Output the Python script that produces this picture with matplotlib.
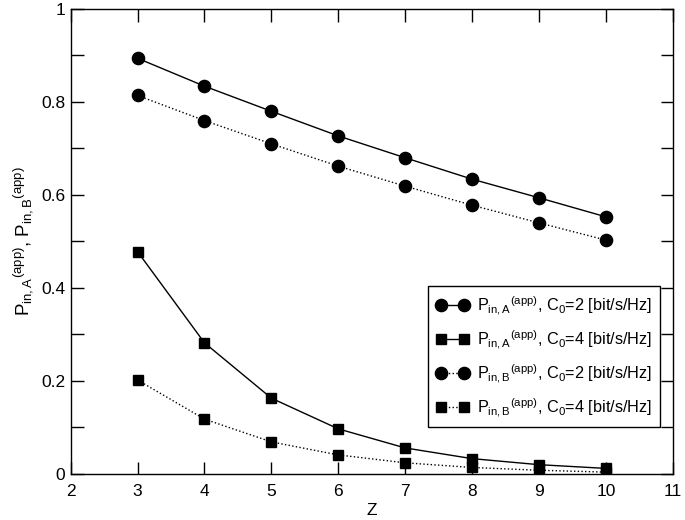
import numpy as np
import matplotlib
matplotlib.use('Agg')
import matplotlib.pyplot as plt
from matplotlib.ticker import MultipleLocator

plt.rcParams['font.family'] = ['Liberation Sans', 'DejaVu Sans']
plt.rcParams['mathtext.fontset'] = 'custom'
plt.rcParams['mathtext.rm'] = 'Liberation Sans'
plt.rcParams['mathtext.it'] = 'Liberation Sans'
plt.rcParams['mathtext.default'] = 'regular'

z = [3, 4, 5, 6, 7, 8, 9, 10]
pa_c2 = [0.894, 0.834, 0.780, 0.727, 0.680, 0.634, 0.594, 0.553]
pa_c4 = [0.478, 0.282, 0.163, 0.097, 0.056, 0.033, 0.020, 0.012]
pb_c2 = [0.814, 0.760, 0.710, 0.662, 0.619, 0.578, 0.540, 0.503]
pb_c4 = [0.202, 0.118, 0.069, 0.041, 0.024, 0.014, 0.008, 0.004]

labels = [r'$P_{in,A}{}^{(app)}$, $C_0$=2 [bit/s/Hz]',
          r'$P_{in,A}{}^{(app)}$, $C_0$=4 [bit/s/Hz]',
          r'$P_{in,B}{}^{(app)}$, $C_0$=2 [bit/s/Hz]',
          r'$P_{in,B}{}^{(app)}$, $C_0$=4 [bit/s/Hz]']

fig = plt.figure(figsize=(6.85, 5.2), dpi=100)
ax = fig.add_axes([0.1032, 0.0885, 0.879, 0.8942])

ax.plot(z, pa_c2, 'k-', marker='o', ms=8.8, lw=1, label=labels[0])
ax.plot(z, pa_c4, 'k-', marker='s', ms=7.6, lw=1, label=labels[1])
ax.plot(z, pb_c2, 'k:', marker='o', ms=8.8, lw=1, label=labels[2])
ax.plot(z, pb_c4, 'k:', marker='s', ms=7.6, lw=1, label=labels[3])

ax.set_xlim(2, 11)
ax.set_ylim(0, 1)
ax.xaxis.set_major_locator(MultipleLocator(1))
ax.yaxis.set_minor_locator(MultipleLocator(0.1))
ax.set_yticks([0, 0.2, 0.4, 0.6, 0.8, 1])
ax.set_yticklabels(['0', '0.2', '0.4', '0.6', '0.8', '1'])
ax.tick_params(which='both', direction='in', top=True, right=True,
               length=9, width=1, labelsize=12.5)
ax.tick_params(axis='x', pad=7)
ax.tick_params(axis='y', pad=4)
for s in ax.spines.values():
    s.set_linewidth(1)

ax.set_xlabel('Z', fontsize=12.5, labelpad=3)
ax.set_ylabel(r'$P_{in,A}{}^{(app)}$, $P_{in,B}{}^{(app)}$', fontsize=13.5, labelpad=4)

leg = ax.legend(loc='lower right', bbox_to_anchor=(0.979, 0.101), fontsize=11.7,
                numpoints=2, fancybox=False, edgecolor='black', framealpha=1,
                handlelength=2.0, borderpad=0.5, labelspacing=0.68,
                handletextpad=0.5, borderaxespad=0)
leg.get_frame().set_linewidth(1)

fig.savefig('out.png', dpi=100)
